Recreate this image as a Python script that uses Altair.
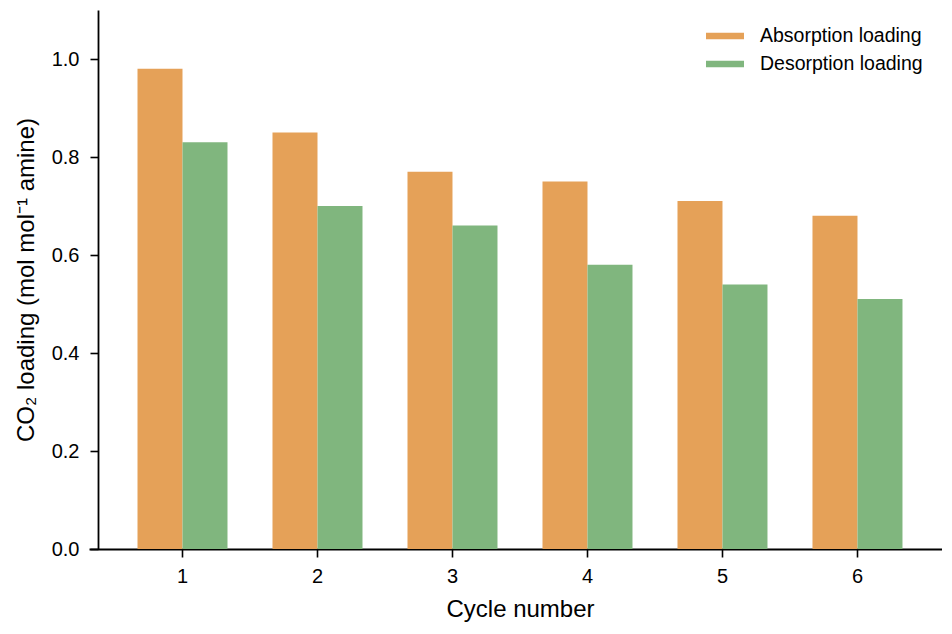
import altair as alt
import pandas as pd

cycles = ["1", "2", "3", "4", "5", "6"]
series_names = ["Absorption loading", "Desorption loading"]
absorption = [0.98, 0.85, 0.77, 0.75, 0.71, 0.68]
desorption = [0.83, 0.70, 0.66, 0.58, 0.54, 0.51]
colors = ["#E5A158", "#80B67E"]
y_ticks = [0.0, 0.2, 0.4, 0.6, 0.8, 1.0]

rows = []
for c, a, d in zip(cycles, absorption, desorption):
    rows.append({"Cycle": c, "Series": series_names[0], "Loading": a})
    rows.append({"Cycle": c, "Series": series_names[1], "Loading": d})
df = pd.DataFrame(rows)

FONT = "Liberation Sans"

chart = alt.Chart(df).mark_bar().encode(
    x=alt.X(
        "Cycle:N",
        sort=cycles,
        scale=alt.Scale(paddingInner=1 / 3, paddingOuter=0.326, align=0.551),
        axis=alt.Axis(
            title="Cycle number",
            labelAngle=0,
            labelFontSize=20,
            titleFontSize=24,
            titleFontWeight="normal",
            labelPadding=9,
            titlePadding=11,
            tickSize=8,
            tickWidth=1.6,
            domainWidth=1.8,
            titleX=431,
        ),
    ),
    xOffset=alt.XOffset(
        "Series:N",
        sort=series_names,
        scale=alt.Scale(paddingInner=0, paddingOuter=0),
    ),
    y=alt.Y(
        "Loading:Q",
        scale=alt.Scale(domain=[0, 1.1], nice=False),
        axis=alt.Axis(
            title="CO₂ loading (mol mol⁻¹ amine)",
            values=y_ticks,
            format=".1f",
            labelFontSize=20,
            titleFontSize=24,
            titleFontWeight="normal",
            labelPadding=11,
            titlePadding=13,
            tickSize=8,
            tickWidth=1.6,
            domainWidth=1.8,
            offset=-9,
        ),
    ),
    color=alt.Color(
        "Series:N",
        sort=series_names,
        scale=alt.Scale(domain=series_names, range=colors),
        legend=alt.Legend(
            title=None,
            orient="none",
            legendX=626,
            legendY=16,
            padding=0,
            symbolType="M-1.9,-0.33L1.9,-0.33L1.9,0.33L-1.9,0.33Z",
            symbolSize=400,
            symbolStrokeWidth=0,
            symbolOpacity=1,
            labelFontSize=19.5,
            labelOffset=25,
            labelLimit=400,
            rowPadding=8,
            labelColor="#000000",
        ),
    ),
).properties(
    width=853,
    height=539,
    autosize=alt.AutoSizeParams(type="none"),
    padding={"left": 81, "top": 2, "right": 0, "bottom": 82},
).configure(
    font=FONT,
).configure_axis(
    grid=False,
    domainColor="#000000",
    tickColor="#000000",
    labelColor="#000000",
    titleColor="#000000",
    labelFont=FONT,
    titleFont=FONT,
).configure_legend(
    labelFont=FONT,
).configure_view(
    stroke=None,
)

chart.save("out.html", embed_options={"renderer": "svg", "actions": False})
